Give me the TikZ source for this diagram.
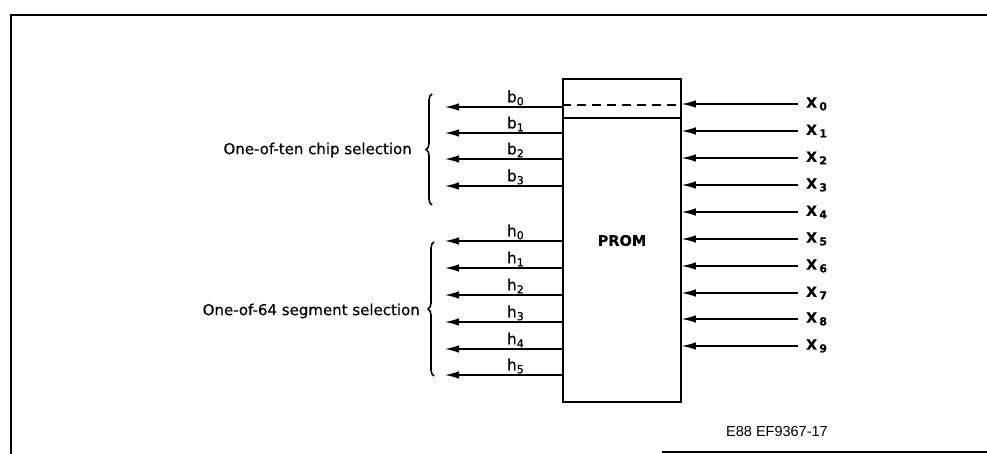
\documentclass[tikz,border=0pt]{standalone}
\usepackage{fontspec}
\setmainfont[FakeBold=0.5]{DejaVu Sans}
\newfontfamily\capfont{Liberation Sans}
\usetikzlibrary{arrows.meta,decorations.pathreplacing}
\newcommand\lowsub[1]{\raisebox{-0.35ex}{\fontsize{11}{11}\selectfont #1}}
\begin{document}
\begin{tikzpicture}[x=1pt,y=-1pt,
  arr/.style={line width=1.2pt,-{Latex[length=14pt,width=7.5pt]}},
  lbl/.style={font=\fontsize{15.5}{15.5}\selectfont, inner sep=1pt},
  xlbl/.style={font=\bfseries\fontsize{14}{14}\selectfont, anchor=west, inner xsep=8pt, inner ysep=0pt},
  bracelbl/.style={font=\fontsize{15}{15}\selectfont, anchor=east, inner sep=0pt},
  brc/.style={decorate, decoration={brace, amplitude=6pt}, line width=1.6pt},
  frame/.style={line width=1.6pt}]
\useasboundingbox (0,0) rectangle (987,454);
% frame
\draw[frame] (11,454) -- (11,15) -- (987,15);
\draw[frame] (662,452) -- (987,452);
% PROM box
\node[draw, line width=1.5pt, minimum width=118pt, minimum height=323pt, inner sep=0pt,
      font=\bfseries\fontsize{14.5}{14.5}\selectfont] (prom) at (622,240.5) {PROM};
\draw[line width=1.3pt, dash pattern=on 9pt off 6pt] (prom.west |- 0,105) -- (prom.east |- 0,105);
\draw[line width=1.3pt] (prom.west |- 0,118) -- (prom.east |- 0,118);
% outputs b
\foreach \i/\y in {0/107,1/133,2/159,3/186}{
  \coordinate (b\i) at (445,\y);
  \draw[arr] (prom.west |- b\i) -- node[lbl, above, pos=0.4]{b\lowsub{\i}} (b\i);
}
% outputs h
\foreach \i/\y in {0/241,1/268,2/295,3/322,4/349,5/375}{
  \coordinate (h\i) at (445,\y);
  \draw[arr] (prom.west |- h\i) -- node[lbl, above, pos=0.4]{h\lowsub{\i}} (h\i);
}
% inputs X
\foreach \i/\y in {0/104,1/131,2/158,3/185,4/212,5/239,6/266,7/293,8/319,9/346}{
  \node[xlbl] (x\i) at (798,\y) {X\,\lowsub{\i}};
  \draw[arr] (x\i.west) -- (x\i.west -| prom.east);
}
% braces
\coordinate (br1b) at (432,205);
\coordinate (br1t) at (432,94);
\draw[brc] (br1b) -- (br1t);
\node[bracelbl] (sel1) at (412,150) {One-of-ten chip selection};
\coordinate (br2b) at (434,376);
\coordinate (br2t) at (434,242);
\draw[brc] (br2b) -- (br2t);
\node[bracelbl] (sel2) at (420,311) {One-of-64 segment selection};
% figure code
\node[font=\capfont\fontsize{14.5}{14.5}\selectfont, anchor=west, inner sep=0pt] (code) at (726,432) {E88 EF9367-17};
\end{tikzpicture}
\end{document}
